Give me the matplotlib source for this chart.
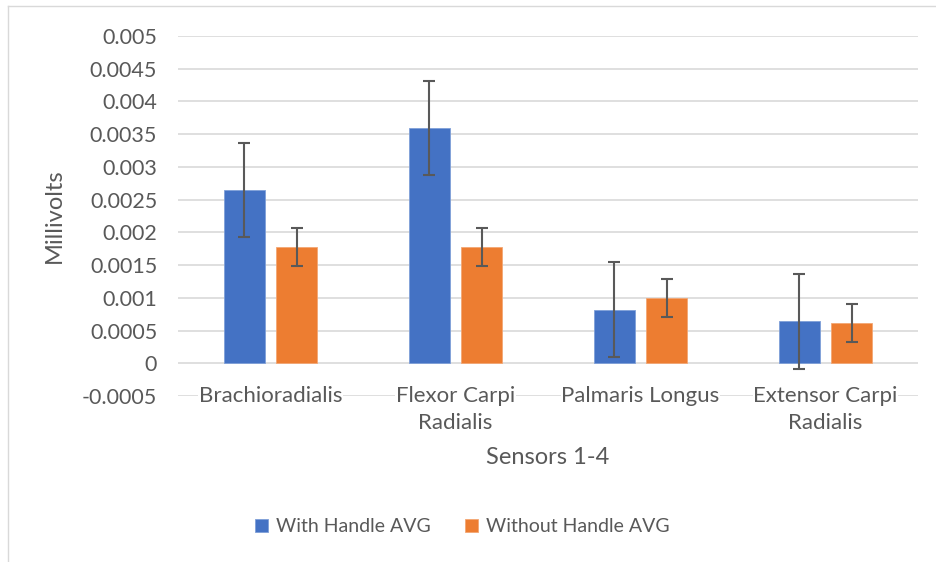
import matplotlib
matplotlib.use("Agg")
import matplotlib.pyplot as plt
import numpy as np

# values
muscles = ["Brachioradialis", "Flexor Carpi\nRadialis", "Palmaris Longus", "Extensor Carpi\nRadialis"]
with_handle = [0.00265, 0.0036, 0.00082, 0.00064]
with_handle_err = [0.00072, 0.00072, 0.00072, 0.00072]
without_handle = [0.00178, 0.00178, 0.00099, 0.00062]
without_handle_err = [0.00029, 0.00029, 0.00029, 0.00029]
yticks = [-0.0005, 0, 0.0005, 0.001, 0.0015, 0.002, 0.0025, 0.003, 0.0035, 0.004, 0.0045, 0.005]
ytick_labels = ["-0.0005", "0", "0.0005", "0.001", "0.0015", "0.002", "0.0025", "0.003",
                "0.0035", "0.004", "0.0045", "0.005"]

plt.rcParams["font.family"] = ["Lato", "DejaVu Sans"]
txt = "#595959"

fig = plt.figure(figsize=(9.36, 5.62), dpi=100)
# chart border (left + top visible)
fig.add_artist(plt.Line2D([8/936, 8/936], [0, 1 - 6/562], color="#d9d9d9", lw=1))
fig.add_artist(plt.Line2D([8/936, 1], [1 - 6/562, 1 - 6/562], color="#d9d9d9", lw=1))

ax = fig.add_axes([178/936, (562-396)/562, 740/936, 360/562])
x = np.arange(len(muscles))
w = 0.224
off = 0.142
ax.bar(x - off, with_handle, w, color="#4472C4", edgecolor="#7f9fd8", lw=0.6,
       label="With Handle AVG", zorder=2)
ax.bar(x + off, without_handle, w, color="#ED7D31", edgecolor="#f3a774", lw=0.6,
       label="Without Handle AVG", zorder=2)
ax.errorbar(x - off, with_handle, yerr=with_handle_err, fmt="none", ecolor="#595959",
            elinewidth=1.5, capsize=4.5, capthick=1.5, zorder=3)
ax.errorbar(x + off, without_handle, yerr=without_handle_err, fmt="none", ecolor="#595959",
            elinewidth=1.5, capsize=4.5, capthick=1.5, zorder=3)

ax.set_xlim(-0.5, 3.5)
ax.set_ylim(-0.0005, 0.005)
ax.set_yticks(yticks)
ax.set_yticklabels(ytick_labels, fontsize=15.5, color=txt)
ax.tick_params(axis="y", length=0, pad=15)
ax.set_xticks([])
ax.grid(axis="y", color="#d9d9d9", lw=1.2, zorder=0)
for s in ax.spines.values():
    s.set_visible(False)

# category labels hang just below the zero line
for xi, name in zip(x, muscles):
    ax.annotate(name, (xi, 0), xytext=(0, -16.5), textcoords="offset points",
                ha="center", va="top", fontsize=16, color=txt, linespacing=1.45,
                bbox=dict(facecolor="white", edgecolor="none", pad=0.5))

ax.set_ylabel("Millivolts", fontsize=17, color=txt, labelpad=12)
fig.text(548/936, 1 - 457/562, "Sensors 1-4", ha="center", va="center", fontsize=17, color=txt)

fig.legend(loc="center", bbox_to_anchor=(462/936, 1 - 527/562), ncol=2, frameon=False,
           fontsize=14, labelcolor=txt, handlelength=0.68, handleheight=0.68,
           handletextpad=0.4, columnspacing=1.75)

fig.savefig("out.png", dpi=100)
